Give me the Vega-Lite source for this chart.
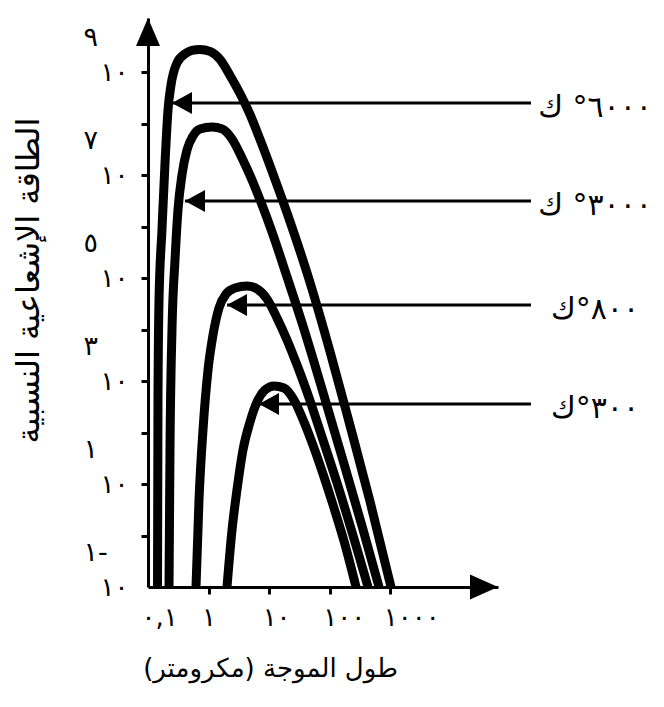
{
  "$schema": "https://vega.github.io/schema/vega-lite/v6.json",
  "width": 350,
  "height": 569,
  "autosize": {"type": "none"},
  "padding": {"left": 148, "top": 18, "right": 166, "bottom": 120},
  "background": "white",
  "config": {
    "view": {"stroke": null},
    "font": "DejaVu Sans",
    "axis": {
      "grid": false,
      "domainColor": "black",
      "tickColor": "black",
      "labelColor": "black",
      "titleColor": "black",
      "labelFont": "DejaVu Sans",
      "titleFont": "DejaVu Sans",
      "titleFontWeight": "normal",
      "labelOverlap": false,
      "labelFlush": false,
      "labelBound": false
    }
  },
  "datasets": {
    "curves": [
      {"T": "6000", "wavelength": 0.1435, "energy": 0.1},
      {"T": "6000", "wavelength": 0.1462, "energy": 428},
      {"T": "6000", "wavelength": 0.152, "energy": 37500},
      {"T": "6000", "wavelength": 0.170, "energy": 857000},
      {"T": "6000", "wavelength": 0.191, "energy": 17200000},
      {"T": "6000", "wavelength": 0.214, "energy": 184000000},
      {"T": "6000", "wavelength": 0.240, "energy": 562000000},
      {"T": "6000", "wavelength": 0.301, "energy": 1500000000},
      {"T": "6000", "wavelength": 0.408, "energy": 2250000000},
      {"T": "6000", "wavelength": 0.532, "energy": 2630000000},
      {"T": "6000", "wavelength": 0.721, "energy": 2750000000},
      {"T": "6000", "wavelength": 1.056, "energy": 2512000000},
      {"T": "6000", "wavelength": 1.544, "energy": 1758000000},
      {"T": "6000", "wavelength": 2.258, "energy": 859000000},
      {"T": "6000", "wavelength": 3.303, "energy": 384000000},
      {"T": "6000", "wavelength": 4.831, "energy": 150300000},
      {"T": "6000", "wavelength": 7.066, "energy": 49100000},
      {"T": "6000", "wavelength": 12.5, "energy": 8200000},
      {"T": "6000", "wavelength": 22.1, "energy": 1254000},
      {"T": "6000", "wavelength": 47.27, "energy": 82000},
      {"T": "6000", "wavelength": 101.1, "energy": 3750},
      {"T": "6000", "wavelength": 216.3, "energy": 137},
      {"T": "6000", "wavelength": 462.7, "energy": 4.58},
      {"T": "6000", "wavelength": 1028, "energy": 0.1},

      {"T": "3000", "wavelength": 0.2223, "energy": 0.1},
      {"T": "3000", "wavelength": 0.2307, "energy": 45.8},
      {"T": "3000", "wavelength": 0.2489, "energy": 9800},
      {"T": "3000", "wavelength": 0.2793, "energy": 224000},
      {"T": "3000", "wavelength": 0.3126, "energy": 2100000},
      {"T": "3000", "wavelength": 0.3639, "energy": 10050000},
      {"T": "3000", "wavelength": 0.4406, "energy": 30700000},
      {"T": "3000", "wavelength": 0.5534, "energy": 57400000},
      {"T": "3000", "wavelength": 0.7211, "energy": 78500000},
      {"T": "3000", "wavelength": 1.14, "energy": 85900000},
      {"T": "3000", "wavelength": 1.667, "energy": 78500000},
      {"T": "3000", "wavelength": 2.438, "energy": 50200000},
      {"T": "3000", "wavelength": 3.563, "energy": 21500000},
      {"T": "3000", "wavelength": 5.212, "energy": 8030000},
      {"T": "3000", "wavelength": 7.624, "energy": 2620000},
      {"T": "3000", "wavelength": 11.15, "energy": 785000},
      {"T": "3000", "wavelength": 19.72, "energy": 105000},
      {"T": "3000", "wavelength": 34.9, "energy": 13400},
      {"T": "3000", "wavelength": 74.6, "energy": 700},
      {"T": "3000", "wavelength": 159.5, "energy": 33.5},
      {"T": "3000", "wavelength": 341.3, "energy": 1.53},
      {"T": "3000", "wavelength": 652, "energy": 0.1},

      {"T": "800", "wavelength": 0.62, "energy": 0.1},
      {"T": "800", "wavelength": 0.695, "energy": 4.9},
      {"T": "800", "wavelength": 0.809, "energy": 112},
      {"T": "800", "wavelength": 0.979, "energy": 1637},
      {"T": "800", "wavelength": 1.183, "energy": 7830},
      {"T": "800", "wavelength": 1.486, "energy": 26200},
      {"T": "800", "wavelength": 1.941, "energy": 49000},
      {"T": "800", "wavelength": 2.729, "energy": 64100},
      {"T": "800", "wavelength": 4.306, "energy": 70100},
      {"T": "800", "wavelength": 6.304, "energy": 61400},
      {"T": "800", "wavelength": 9.219, "energy": 39200},
      {"T": "800", "wavelength": 13.48, "energy": 16750},
      {"T": "800", "wavelength": 19.72, "energy": 6270},
      {"T": "800", "wavelength": 28.84, "energy": 2050},
      {"T": "800", "wavelength": 42.19, "energy": 612},
      {"T": "800", "wavelength": 74.6, "energy": 81.9},
      {"T": "800", "wavelength": 131.9, "energy": 10.47},
      {"T": "800", "wavelength": 282.2, "energy": 0.547},
      {"T": "800", "wavelength": 429, "energy": 0.1},

      {"T": "300", "wavelength": 2.014, "energy": 0.1},
      {"T": "300", "wavelength": 2.438, "energy": 1.28},
      {"T": "300", "wavelength": 2.944, "energy": 7.66},
      {"T": "300", "wavelength": 3.698, "energy": 45.8},
      {"T": "300", "wavelength": 4.831, "energy": 160},
      {"T": "300", "wavelength": 6.31, "energy": 392},
      {"T": "300", "wavelength": 8.55, "energy": 670},
      {"T": "300", "wavelength": 12.02, "energy": 802},
      {"T": "300", "wavelength": 17.6, "energy": 733},
      {"T": "300", "wavelength": 25.73, "energy": 428.5},
      {"T": "300", "wavelength": 37.63, "energy": 160},
      {"T": "300", "wavelength": 55.04, "energy": 50.1},
      {"T": "300", "wavelength": 80.5, "energy": 13.68},
      {"T": "300", "wavelength": 117.7, "energy": 3.42},
      {"T": "300", "wavelength": 172.1, "energy": 0.782},
      {"T": "300", "wavelength": 272, "energy": 0.1}
    ],
    "arrows": [
      {"T": "6000", "label": "٦٠٠٠° ك", "tip": 0.249, "end": 210400, "energy": 251000000},
      {"T": "3000", "label": "٣٠٠٠° ك", "tip": 0.408, "end": 210400, "energy": 3140000},
      {"T": "800", "label": "٨٠٠°ك", "tip": 2.014, "end": 210400, "energy": 30000},
      {"T": "300", "label": "٣٠٠°ك", "tip": 6.8, "end": 210400, "energy": 358}
    ]
  },
  "resolve": {"axis": {"x": "independent", "y": "independent"}},
  "layer": [
    {
      "data": {"name": "curves"},
      "mark": {"type": "line", "color": "black", "strokeWidth": 9, "interpolate": "monotone", "strokeCap": "butt", "strokeJoin": "round"},
      "encoding": {
        "x": {
          "field": "wavelength", "type": "quantitative",
          "scale": {"type": "log", "domain": [0.1, 60000], "nice": false},
          "axis": {
            "values": [0.1, 1, 10, 100, 1000],
            "labelExpr": "datum.value < 0.5 ? '٠,١' : datum.value < 5 ? '١' : datum.value < 50 ? '١٠' : datum.value < 500 ? '١٠٠' : '١٠٠٠'",
            "labelAlign": "left",
            "labelOffset": -7,
            "labelFontSize": 26,
            "labelPadding": 10,
            "tickSize": 7,
            "tickWidth": 3,
            "domainWidth": 3,
            "tickOpacity": {"condition": {"test": "datum.value < 0.5", "value": 0}, "value": 1},
            "title": "طول الموجة (مكرومتر)",
            "titleFontSize": 26,
            "titleX": 122,
            "titleY": 81,
            "titleAlign": "center",
            "titleBaseline": "middle"
          }
        },
        "y": {
          "field": "energy", "type": "quantitative",
          "scale": {"type": "log", "domain": [0.1, 11200000000], "nice": false},
          "axis": {
            "values": [0.1, 1, 10, 100, 1000, 10000, 100000, 1000000, 10000000, 100000000, 1000000000],
            "labelExpr": "(round(log(datum.value) / LN10) % 2) != 0 ? '١٠' : ''",
            "labelFontSize": 26,
            "labelPadding": 13,
            "labelBaseline": "middle",
            "tickSize": 7,
            "tickWidth": 3,
            "domainWidth": 3,
            "tickOpacity": {"condition": {"test": "datum.value < 0.5", "value": 0}, "value": 1},
            "title": "الطاقة الإشعاعية النسبية",
            "titleFontSize": 32,
            "titleAngle": -90,
            "titleX": -120,
            "titleY": 262,
            "titleAlign": "center",
            "titleBaseline": "middle"
          }
        },
        "detail": {"field": "T", "type": "nominal"}
      }
    },
    {
      "data": {"name": "arrows"},
      "mark": {"type": "rule", "color": "black", "strokeWidth": 3},
      "encoding": {
        "x": {"field": "tip", "type": "quantitative", "axis": null},
        "x2": {"field": "end"},
        "y": {"field": "energy", "type": "quantitative", "axis": null}
      }
    },
    {
      "data": {"name": "arrows"},
      "mark": {"type": "point", "shape": "M0,0L2,-1.1L2,1.1Z", "size": 400, "filled": true, "color": "black", "opacity": 1, "strokeWidth": 0},
      "encoding": {
        "x": {"field": "tip", "type": "quantitative", "axis": null},
        "y": {"field": "energy", "type": "quantitative", "axis": null}
      }
    },
    {
      "data": {"name": "arrows"},
      "mark": {"type": "text", "align": "center", "baseline": "middle", "dx": 64, "dy": 5, "fontSize": 30, "color": "black", "font": "DejaVu Sans"},
      "encoding": {
        "x": {"field": "end", "type": "quantitative", "axis": null},
        "y": {"field": "energy", "type": "quantitative", "axis": null},
        "text": {"field": "label"}
      }
    },
    {
      "data": {"values": [{}]},
      "mark": {"type": "point", "shape": "M0,0L1.2,2.8L-1.2,2.8Z", "size": 400, "filled": true, "color": "black", "opacity": 1, "strokeWidth": 0},
      "encoding": {
        "x": {"datum": 0.1, "type": "quantitative", "axis": null},
        "y": {
          "datum": 11200000000, "type": "quantitative",
          "axis": {
            "orient": "left",
            "values": [0.1, 10, 1000, 100000, 10000000, 1000000000],
            "labelExpr": "datum.value < 1 ? '١-' : datum.value < 100 ? '١' : datum.value < 10000 ? '٣' : datum.value < 1000000 ? '٥' : datum.value < 100000000 ? '٧' : '٩'",
            "labelAlign": "left",
            "labelBaseline": "middle",
            "labelPadding": 65,
            "labelOffset": -35,
            "labelFontSize": 27,
            "ticks": false,
            "tickSize": 0,
            "domain": false,
            "title": null
          }
        }
      }
    },
    {
      "data": {"values": [{}]},
      "mark": {"type": "point", "shape": "M0,0L-2.8,-1.25L-2.8,1.25Z", "size": 400, "filled": true, "color": "black", "opacity": 1, "strokeWidth": 0},
      "encoding": {
        "x": {"datum": 60000, "type": "quantitative", "axis": null},
        "y": {"datum": 0.1, "type": "quantitative", "axis": null}
      }
    }
  ]
}
